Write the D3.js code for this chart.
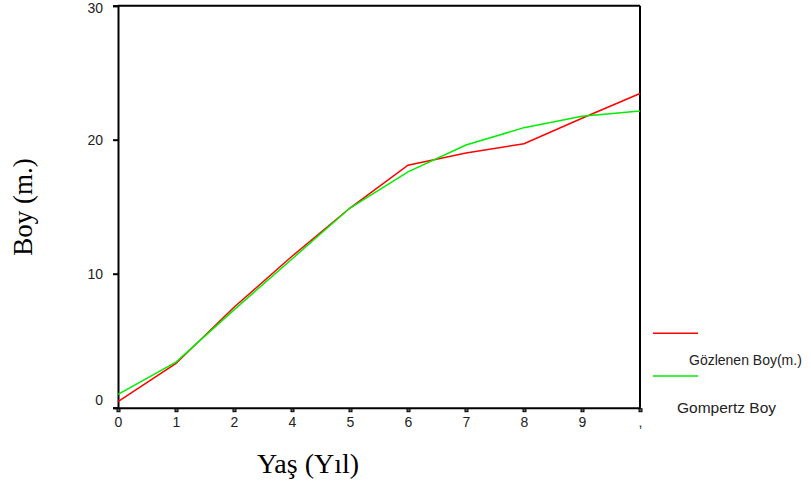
<!DOCTYPE html>
<html>
<head>
<meta charset="utf-8">
<script src="https://cdn.jsdelivr.net/npm/d3@7"></script>
<style>
  html, body { margin: 0; padding: 0; background: #fff; }
  svg { display: block; }
</style>
</head>
<body>
<script>
const categories = ["0", "1", "2", "4", "5", "6", "7", "8", "9", ","];
const observed = [0.45, 3.3, 7.5, 11.3, 14.9, 18.1, 19.0, 19.7, 21.6, 23.45];
const gompertz = [1.0, 3.4, 7.3, 11.1, 14.9, 17.6, 19.6, 20.9, 21.75, 22.15];
const yTicks = [0, 10, 20, 30];
const seriesNames = ["Gözlenen Boy(m.)", "Gompertz Boy"];
const seriesColors = ["#ff0000", "#00ee00"];

const W = 811, H = 493;
const svg = d3.select("body").append("svg").attr("width", W).attr("height", H);

const x = d3.scalePoint().domain(categories).range([118, 640]);
const y = d3.scaleLinear().domain([0, 30]).range([407.7, 5.7]);

// Frame (top and right)
svg.append("line").attr("x1", 118).attr("x2", 640).attr("y1", y(30)).attr("y2", y(30))
  .attr("stroke", "#000").attr("stroke-width", 2);
svg.append("line").attr("x1", 640).attr("x2", 640).attr("y1", y(30)).attr("y2", y(0))
  .attr("stroke", "#000").attr("stroke-width", 2);

// Y axis
const yAxis = svg.append("g").attr("transform", "translate(118,0)")
  .call(d3.axisLeft(y).tickValues(yTicks).tickSize(5).tickPadding(10).tickFormat(d3.format("d")));
yAxis.select(".domain").attr("stroke-width", 2);
yAxis.selectAll(".tick line").attr("stroke-width", 2);
yAxis.selectAll(".tick text").attr("font-family", "Liberation Sans, Arial, sans-serif")
  .attr("font-size", 14).attr("fill", "#222")
  .attr("dy", d => d === 0 ? "-0.25em" : (d === 30 ? "0.45em" : "0.32em"));

// X axis
const xAxis = svg.append("g").attr("transform", "translate(0," + y(0) + ")")
  .call(d3.axisBottom(x).tickSize(0).tickPadding(9));
xAxis.select(".domain").attr("stroke-width", 2);
xAxis.selectAll(".tick").append("rect")
  .attr("x", -1.5).attr("y", 1).attr("width", 3).attr("height", 3)
  .attr("fill", "#666").attr("stroke", "#000").attr("stroke-width", 1);
xAxis.selectAll(".tick text").attr("font-family", "Liberation Sans, Arial, sans-serif")
  .attr("font-size", 14).attr("fill", "#222");

// Lines
const line = d3.line().x((d, i) => x(categories[i])).y(d => y(d));
[observed, gompertz].forEach((s, k) => {
  svg.append("path").datum(s).attr("d", line)
    .attr("fill", "none").attr("stroke", seriesColors[k]).attr("stroke-width", 1.5);
});

// Axis titles
svg.append("text").attr("x", 308).attr("y", 473).attr("text-anchor", "middle")
  .attr("font-family", "Liberation Serif, Times New Roman, serif").attr("font-size", 28)
  .attr("fill", "#000").text("Yaş (Yıl)");
svg.append("text").attr("transform", "translate(32,207) rotate(-90)").attr("text-anchor", "middle")
  .attr("font-family", "Liberation Serif, Times New Roman, serif").attr("font-size", 27)
  .attr("fill", "#000").text("Boy (m.)");

// Legend
const legY = [333.3, 376];
const legTextPos = [[689, 365, 14], [677, 413, 15.5]];
seriesNames.forEach((name, k) => {
  svg.append("line").attr("x1", 653).attr("x2", 698).attr("y1", legY[k]).attr("y2", legY[k])
    .attr("stroke", seriesColors[k]).attr("stroke-width", 1.5);
  svg.append("text").attr("x", legTextPos[k][0]).attr("y", legTextPos[k][1])
    .attr("font-family", "Liberation Sans, Arial, sans-serif").attr("font-size", legTextPos[k][2])
    .attr("fill", "#222").text(name);
});
</script>
</body>
</html>
